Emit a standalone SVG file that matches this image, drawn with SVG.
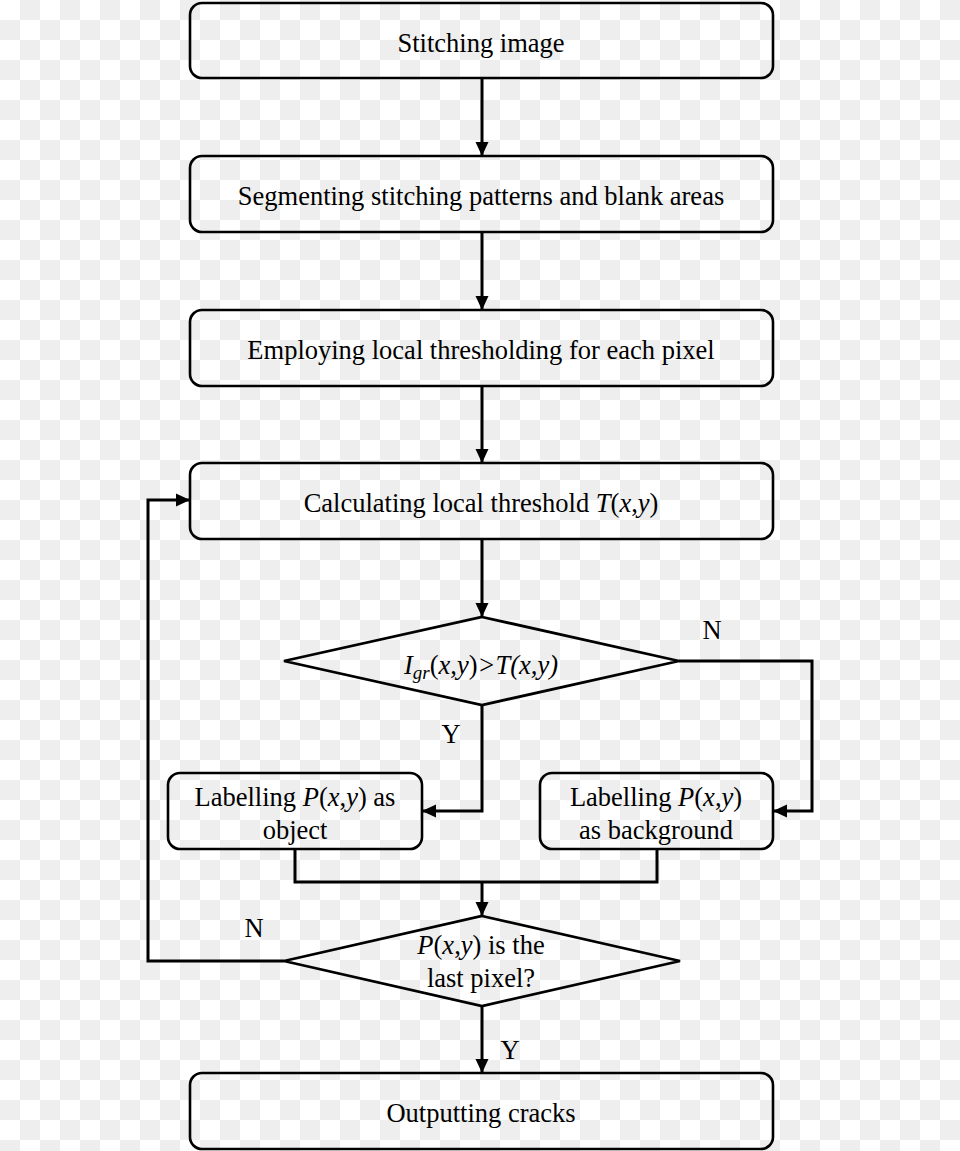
<svg xmlns="http://www.w3.org/2000/svg" width="960" height="1151" viewBox="0 0 960 1151">
<defs>
<pattern id="checker" patternUnits="userSpaceOnUse" width="40" height="40">
<rect width="40" height="40" fill="#ffffff"/>
<rect x="20" y="0" width="20" height="20" fill="#eeeeee"/>
<rect x="0" y="20" width="20" height="20" fill="#eeeeee"/>
</pattern>
<marker id="arr" markerUnits="userSpaceOnUse" markerWidth="14" markerHeight="14" refX="14" refY="7" orient="auto">
<path d="M0,0.5 L14,7 L0,13.5 z" fill="#000"/>
</marker>
</defs>
<style>
.box{fill:none;stroke:#000;stroke-width:2.6}
.dia{fill:none;stroke:#000;stroke-width:2.8;stroke-linejoin:miter}
.con{fill:none;stroke:#000;stroke-width:3}
.t{font-family:"Liberation Serif","Times New Roman",serif;font-size:26.5px;fill:#000;text-anchor:middle}
.i{font-style:italic}
</style>
<rect width="960" height="1151" fill="url(#checker)"/>

<g id="connectors">
<line class="con" x1="482" y1="78" x2="482" y2="156" marker-end="url(#arr)"/>
<line class="con" x1="482" y1="232" x2="482" y2="310" marker-end="url(#arr)"/>
<line class="con" x1="482" y1="386" x2="482" y2="463" marker-end="url(#arr)"/>
<line class="con" x1="482" y1="539" x2="482" y2="617" marker-end="url(#arr)"/>
<polyline class="con" points="679,661 812,661 812,811 773,811" marker-end="url(#arr)"/>
<polyline class="con" points="482,705 482,811 422,811" marker-end="url(#arr)"/>
<polyline class="con" points="295,849 295,882 657,882 657,849"/>
<line class="con" x1="482" y1="882" x2="482" y2="916" marker-end="url(#arr)"/>
<polyline class="con" points="284,961 148,961 148,500 190,500" marker-end="url(#arr)"/>
<line class="con" x1="482" y1="1006" x2="482" y2="1073" marker-end="url(#arr)"/>
<text class="t" x="712" y="639">N</text>
<text class="t" x="451" y="743">Y</text>
<text class="t" x="254" y="937">N</text>
<text class="t" x="510" y="1059">Y</text>
</g>

<g id="stitching-image">
<rect class="box" x="190" y="3" width="583" height="75" rx="12"/>
<text class="t" x="481" y="52">Stitching image</text>
</g>

<g id="segmenting">
<rect class="box" x="190" y="156" width="583" height="76" rx="12"/>
<text class="t" x="481" y="205">Segmenting stitching patterns and blank areas</text>
</g>

<g id="employing">
<rect class="box" x="190" y="310" width="583" height="76" rx="12"/>
<text class="t" x="481" y="359">Employing local thresholding for each pixel</text>
</g>

<g id="calculating">
<rect class="box" x="190" y="463" width="583" height="76" rx="12"/>
<text class="t" x="481" y="512">Calculating local threshold <tspan class="i">T</tspan>(<tspan class="i">x</tspan>,<tspan class="i">y</tspan>)</text>
</g>

<g id="decision-threshold">
<polygon class="dia" points="482,617 679,661 482,705 284,661"/>
<text class="t" x="481" y="674"><tspan class="i">I</tspan><tspan class="i" font-size="19" dy="5">gr</tspan><tspan dy="-5">(</tspan><tspan class="i">x</tspan>,<tspan class="i">y</tspan>)<tspan class="i">&gt;T(x,y)</tspan></text>
</g>

<g id="label-object">
<rect class="box" x="168" y="773" width="254" height="76" rx="12"/>
<text class="t" x="295" y="806">Labelling <tspan class="i">P</tspan>(<tspan class="i">x</tspan>,<tspan class="i">y</tspan>) as</text>
<text class="t" x="295" y="839">object</text>
</g>

<g id="label-background">
<rect class="box" x="540" y="773" width="233" height="76" rx="12"/>
<text class="t" x="656" y="806">Labelling <tspan class="i">P</tspan>(<tspan class="i">x</tspan>,<tspan class="i">y</tspan>)</text>
<text class="t" x="656" y="839">as background</text>
</g>

<g id="decision-last">
<polygon class="dia" points="482,916 680,961 482,1006 284,961"/>
<text class="t" x="481" y="954"><tspan class="i">P</tspan>(<tspan class="i">x</tspan>,<tspan class="i">y</tspan>) is the</text>
<text class="t" x="481" y="987">last pixel?</text>
</g>

<g id="outputting">
<rect class="box" x="190" y="1073" width="583" height="76" rx="12"/>
<text class="t" x="481" y="1122">Outputting cracks</text>
</g>
</svg>
